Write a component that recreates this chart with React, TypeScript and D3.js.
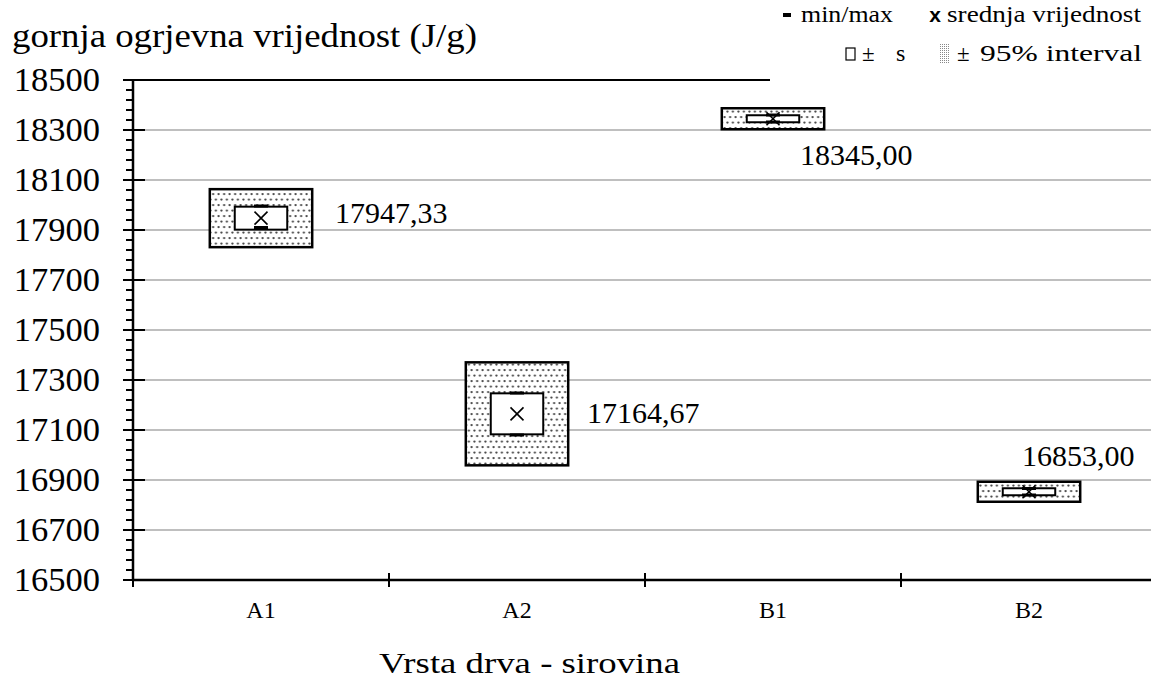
import { formatLocale, scaleBand, scaleLinear, range } from "d3";

const categories = ["A1", "A2", "B1", "B2"];
const means = [17947.33, 17164.67, 18345.0, 16853.0];
const stdDevs = [46, 82, 14, 14];
const ci95 = [116, 206, 42, 40];
const minima = [17910, 17080, 18332, 16840];
const maxima = [17996, 17248, 18360, 16866];
const yTicks = [16500, 16700, 16900, 17100, 17300, 17500, 17700, 17900, 18100, 18300, 18500];

// where each mean label sits, relative to band centre and mean y
const labelOffsets = [
  { dx: 74, dy: 5 },
  { dx: 70, dy: 9 },
  { dx: 27, dy: 46 },
  { dx: -7, dy: -26 }
];

const hr = formatLocale({ decimal: ",", thousands: "", grouping: [3], currency: ["", ""] });
const fmt = hr.format(".2f");
const serif = "'Liberation Serif', 'Times New Roman', serif";

export default function App() {
  const width = 1151;
  const height = 684;
  const left = 133;
  const x = scaleBand<string>().domain(categories).range([left, left + 256 * 4]).padding(0);
  const y = scaleLinear().domain([16500, 18500]).range([580, 80]);
  const bw = x.bandwidth();
  const outerW = bw * 0.4;
  const innerW = bw * 0.205;
  const minorTicks = range(16500, 18501, 40);

  return (
    <svg width={width} height={height} style={{ position: "absolute", left: 0, top: 0, background: "#fff" }} fontFamily={serif}>
      <defs>
        <pattern id="dots" width="5.5" height="11" patternUnits="userSpaceOnUse">
          <rect width="5.5" height="11" fill="#fff" />
          <circle cx="1.4" cy="1.6" r="1.15" fill="#444" />
          <circle cx="4.15" cy="7.1" r="1.15" fill="#444" />
        </pattern>
        <pattern id="dotsSmall" width="2" height="2" patternUnits="userSpaceOnUse">
          <rect width="2" height="2" fill="#fff" />
          <rect width="1" height="1" fill="#888" />
        </pattern>
      </defs>

      {yTicks.slice(1, -1).map((t) => (
        <line key={t} x1={left} x2={width} y1={y(t)} y2={y(t)} stroke="#808080" strokeWidth={1.2} />
      ))}
      <line x1={left} x2={width} y1={y(18500)} y2={y(18500)} stroke="#000" strokeWidth={2} />

      {categories.map((c, i) => {
        const cx = (x(c) ?? 0) + bw / 2;
        const my = y(means[i]);
        const m = 6.5;
        return (
          <g key={c}>
            <rect x={cx - outerW / 2} y={y(means[i] + ci95[i])} width={outerW} height={y(means[i] - ci95[i]) - y(means[i] + ci95[i])} fill="url(#dots)" stroke="#000" strokeWidth={2.5} />
            <rect x={cx - innerW / 2} y={y(means[i] + stdDevs[i])} width={innerW} height={y(means[i] - stdDevs[i]) - y(means[i] + stdDevs[i])} fill="#fff" stroke="#000" strokeWidth={2} />
            <line x1={cx - 7} x2={cx + 7} y1={y(maxima[i])} y2={y(maxima[i])} stroke="#000" strokeWidth={3} />
            <line x1={cx - 7} x2={cx + 7} y1={y(minima[i])} y2={y(minima[i])} stroke="#000" strokeWidth={3} />
            <path d={`M${cx - m},${my - m}L${cx + m},${my + m}M${cx - m},${my + m}L${cx + m},${my - m}`} stroke="#000" strokeWidth={1.6} />
            <text x={cx + labelOffsets[i].dx} y={my + labelOffsets[i].dy} fontSize={30}>
              {fmt(means[i])}
            </text>
          </g>
        );
      })}

      {/* y axis */}
      <line x1={left} x2={left} y1={80} y2={581} stroke="#000" strokeWidth={2.5} />
      {minorTicks.map((t) => (
        <line key={t} x1={left - 7} x2={left} y1={y(t)} y2={y(t)} stroke="#000" strokeWidth={2} />
      ))}
      {yTicks.map((t) => (
        <g key={t}>
          <line x1={left - 10} x2={left + 12} y1={y(t)} y2={y(t)} stroke="#000" strokeWidth={2} />
          <text x={100} y={y(t) + 11} textAnchor="end" fontSize={34.5}>
            {t}
          </text>
        </g>
      ))}

      {/* x axis */}
      <line x1={left} x2={width} y1={580} y2={580} stroke="#000" strokeWidth={2.5} />
      {range(0, categories.length + 1).map((k) => (
        <line key={k} x1={left + bw * k} x2={left + bw * k} y1={573} y2={587} stroke="#000" strokeWidth={2} />
      ))}
      {categories.map((c) => (
        <text key={c} x={(x(c) ?? 0) + bw / 2} y={618} textAnchor="middle" fontSize={24}>
          {c}
        </text>
      ))}
      <text x={379} y={673} fontSize={29} textLength={301} lengthAdjust="spacingAndGlyphs">
        Vrsta drva - sirovina
      </text>

      <text x={12} y={47} fontSize={33} textLength={465} lengthAdjust="spacingAndGlyphs">
        gornja ogrjevna vrijednost (J/g)
      </text>

      {/* legend */}
      <rect x={770} y={0} width={width - 770} height={84} fill="#fff" />
      <rect x={783} y={13} width={8} height={4} fill="#000" />
      <text x={801} y={22} fontSize={23} textLength={92} lengthAdjust="spacingAndGlyphs">min/max</text>
      <text x={935} y={22} textAnchor="middle" fontSize={21} fontWeight="bold" fontFamily="'Liberation Sans', Arial, sans-serif">x</text>
      <text x={947} y={22} fontSize={23} textLength={194} lengthAdjust="spacingAndGlyphs">srednja vrijednost</text>
      <rect x={846} y={48} width={9} height={12} fill="#fff" stroke="#000" strokeWidth={1.2} />
      <text x={862} y={61} fontSize={23}>±</text>
      <text x={896} y={61} fontSize={24}>s</text>
      <rect x={940} y={44} width={10} height={19} fill="url(#dotsSmall)" />
      <text x={957} y={61} fontSize={23}>±</text>
      <text x={980} y={61} fontSize={24} textLength={162} lengthAdjust="spacingAndGlyphs">95% interval</text>
    </svg>
  );
}
